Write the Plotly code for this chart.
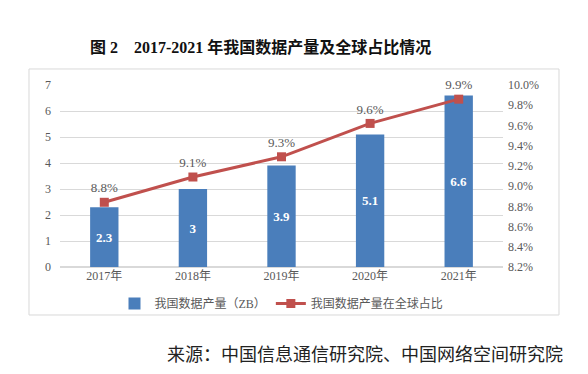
import plotly.graph_objects as go

years = ["2017年", "2018年", "2019年", "2020年", "2021年"]
output_zb = [2.3, 3, 3.9, 5.1, 6.6]
share_pct = [8.84, 9.09, 9.29, 9.62, 9.86]
right_ticks = [8.2, 8.4, 8.6, 8.8, 9.0, 9.2, 9.4, 9.6, 9.8, 10.0]

SERIF = "Liberation Serif, Times New Roman, Noto Sans CJK SC, serif"
GRAY = "#595959"

fig = go.Figure()
fig.add_trace(go.Bar(
    x=years, y=output_zb, name="我国数据产量（ZB）",
    marker=dict(color="#4a7ebb", line=dict(width=0)),
    width=0.32,
    text=[str(v) for v in output_zb], textposition="inside",
    insidetextanchor="middle",
    textfont=dict(color="white", size=13, family=SERIF, weight="bold"),
    yaxis="y",
))
fig.add_trace(go.Scatter(
    x=years, y=share_pct, name="我国数据产量在全球占比",
    mode="lines+markers+text",
    line=dict(color="#c0504d", width=3),
    marker=dict(symbol="square", size=9, color="#c0504d"),
    texttemplate="%{y:.1f}%", textposition="top center",
    textfont=dict(color=GRAY, size=13, family=SERIF),
    cliponaxis=False,
    yaxis="y2",
))

fig.update_layout(
    width=588, height=374,
    margin=dict(l=60, r=85, t=85, b=107, autoexpand=False),
    paper_bgcolor="white", plot_bgcolor="white",
    font=dict(family=SERIF, color=GRAY, size=12),
    showlegend=True,
    legend=dict(orientation="h", x=0.5, xanchor="center", y=-0.2, yanchor="middle",
                font=dict(size=12, color=GRAY, family=SERIF), itemwidth=30,
                traceorder="normal", bgcolor="rgba(0,0,0,0)"),
    bargap=0.68,
    xaxis=dict(showgrid=False, showline=False, ticks="", tickfont=dict(size=12, color=GRAY)),
    yaxis=dict(range=[0, 7], dtick=1, showgrid=True, gridcolor="#d9d9d9", gridwidth=1,
               zeroline=True, zerolinecolor="#d9d9d9", showline=False,
               tickfont=dict(size=12, color=GRAY), ticklabelstandoff=8),
    yaxis2=dict(range=[8.2, 10.0], overlaying="y", side="right",
                tickvals=right_ticks, ticktext=[f"{v:.1f}%" for v in right_ticks],
                showgrid=False, zeroline=False, showline=False,
                tickfont=dict(size=12, color=GRAY), ticklabelstandoff=4),
    shapes=[dict(type="rect", xref="paper", yref="paper",
                 x0=-0.07, x1=1.1264, y0=-0.2637, y1=1.088,
                 line=dict(color="#d9d9d9", width=1), fillcolor="rgba(0,0,0,0)",
                 layer="below")],
    annotations=[
        dict(text="<b>图 2    2017-2021 年我国数据产量及全球占比情况</b>",
             xref="paper", yref="paper", x=0.4537, y=1.209, xanchor="center", yanchor="middle",
             showarrow=False, font=dict(size=16, color="#111111", family=SERIF)),
        dict(text="来源：中国信息通信研究院、中国网络空间研究院",
             xref="paper", yref="paper", x=1.14, y=-0.4835, xanchor="right", yanchor="middle",
             showarrow=False, font=dict(size=18, color="#222222", family=SERIF)),
    ],
)

fig.write_html("out.html", config={"displayModeBar": False},
               post_script="document.body.style.margin='0px';")
